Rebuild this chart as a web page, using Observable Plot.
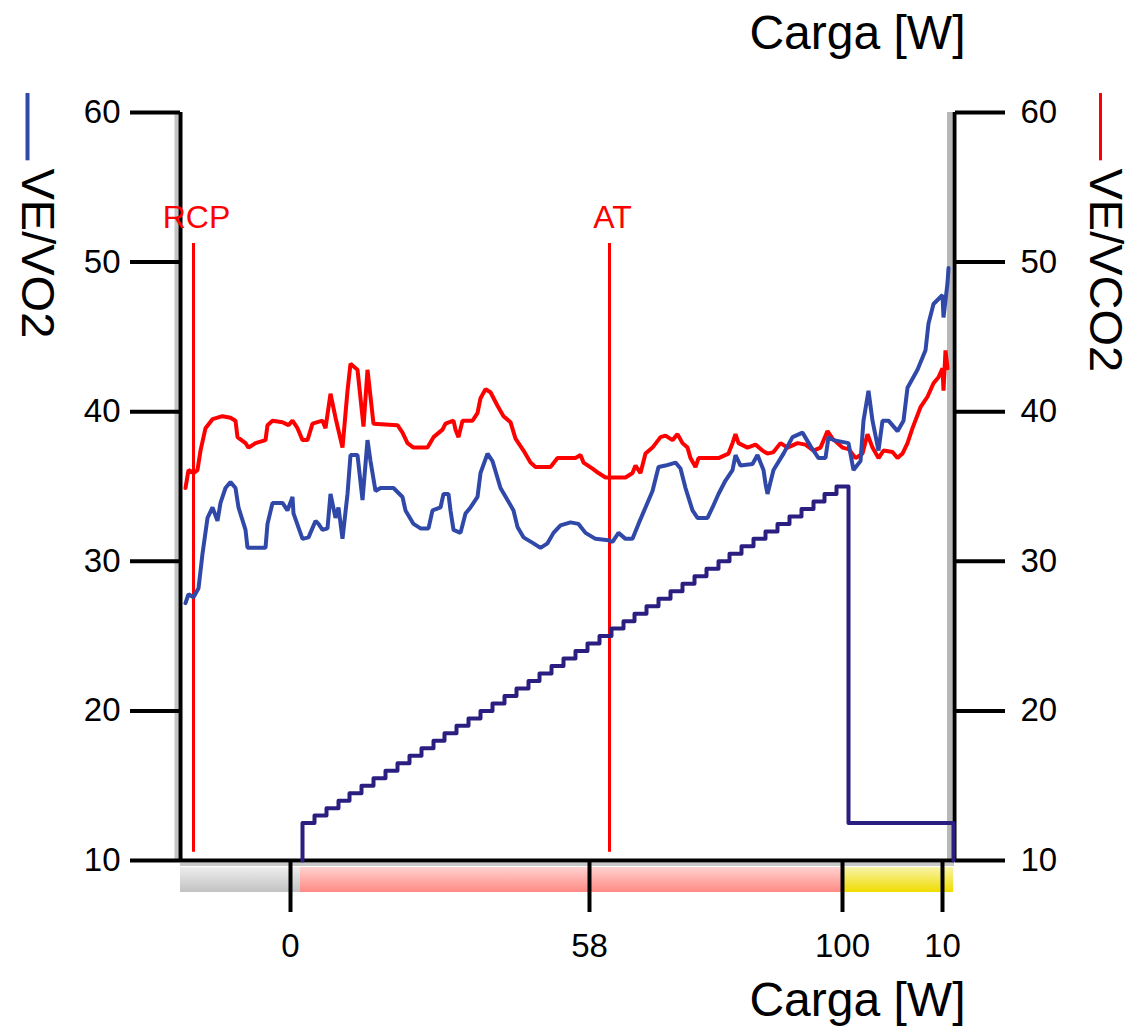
<!DOCTYPE html>
<html>
<head>
<meta charset="utf-8">
<script src="https://cdn.jsdelivr.net/npm/d3@7"></script>
<script src="https://cdn.jsdelivr.net/npm/@observablehq/plot@0.6"></script>
<style>
  html, body { margin: 0; padding: 0; background: white; }
</style>
</head>
<body>
<div id="chart"></div>
<script>
// ---- Data (time in seconds from start of the plotted window) ----
const yTicks = [10, 20, 30, 40, 50, 60];
const xTickPos = [110, 409, 662, 762];
const xTickLabels = ["0", "58", "100", "10"];

// VE/VO2 (blue)
const vo2T = [5,8,13,18,22,27,32,37,40,45,50,55,58,65,67,85,87,92,102,107,112,113,122,128,135,138,142,147,150,155,158,162,167,170,177,182,187,190,195,200,213,222,225,233,240,248,252,260,263,268,270,273,280,285,290,297,300,307,312,320,327,333,337,343,353,360,367,373,380,390,398,405,415,428,432,438,445,452,458,465,472,478,485,495,500,505,512,517,527,532,538,545,552,555,560,572,577,583,585,587,593,603,612,622,630,638,645,648,653,668,673,680,683,688,692,698,702,708,717,723,727,737,745,748,753,762,763,767,768];
const vo2V = [27.2,27.8,27.6,28.2,30.5,32.9,33.6,32.7,33.9,34.9,35.3,34.9,33.6,32.1,30.9,30.9,32.5,33.9,33.9,33.4,34.3,33.2,31.5,31.6,32.7,32.5,32.1,32.2,34.5,32.9,33.6,31.5,34.5,37.1,37.1,34.1,38.1,36.7,34.7,34.9,34.9,34.3,33.4,32.5,32.2,32.2,33.4,33.6,34.5,34.5,33.4,32.1,31.9,33.2,33.6,34.3,35.9,37.2,36.7,34.9,34.1,33.4,32.3,31.6,31.2,30.9,31.2,31.9,32.4,32.6,32.5,31.9,31.5,31.4,31.3,31.9,31.5,31.5,32.5,33.6,34.7,36.3,36.4,36.6,36.2,34.9,33.4,32.9,32.9,33.6,34.5,35.4,36.1,37.1,36.4,36.5,37.1,36.1,35.2,34.5,36.1,37.2,38.3,38.6,37.7,36.9,36.9,38.3,38.1,37.9,36.1,36.7,39.4,41.4,39.4,37.4,39.4,39.4,38.7,39.4,41.6,42.8,44.1,45.9,47.2,47.8,46.3,48.6,49.6];

// VE/VCO2 (red)
const vco2T = [5,8,13,17,20,25,32,42,50,55,57,65,68,75,85,87,92,102,108,112,117,122,127,132,142,145,150,155,162,167,170,177,183,187,193,217,222,227,233,247,253,262,265,273,275,278,282,292,297,300,305,310,317,323,330,335,343,350,355,370,377,390,395,400,403,412,418,425,445,452,455,460,465,472,480,485,492,497,502,507,510,515,518,538,548,552,555,558,567,575,582,587,593,600,607,617,625,633,640,647,652,662,668,675,682,687,692,698,703,712,717,722,727,732,740,747,753,758,762,763,765,767];
const vco2V = [34.9,36.1,35.9,36.1,37.4,38.9,39.5,39.7,39.6,39.4,38.3,37.9,37.6,37.9,38.1,39.1,39.4,39.3,39.1,39.4,38.9,38.1,38.1,39.2,39.4,38.9,41.2,39.6,37.6,41.4,43.2,42.8,39.0,42.8,39.2,39.1,38.6,37.9,37.6,37.6,38.3,38.8,39.2,39.4,38.8,38.3,39.4,39.4,39.9,40.9,41.5,41.3,40.4,39.7,39.3,38.2,37.4,36.6,36.3,36.3,36.9,36.9,36.9,37.1,36.6,36.2,35.9,35.6,35.6,35.9,36.4,35.9,37.2,37.6,38.3,38.4,38.1,38.5,37.9,37.6,36.9,36.3,36.9,36.9,37.2,37.9,38.5,37.9,37.6,37.8,37.4,37.2,37.3,37.9,37.6,37.9,37.8,37.4,37.6,38.7,38.2,37.6,37.5,36.9,37.2,38.5,37.6,36.9,37.4,37.3,36.9,37.2,37.9,38.9,40.3,41.0,41.9,42.3,42.9,41.4,44.1,42.9];

// Load (W) step protocol
const loadT = [122,122,134,146,158,169,181,193,205,217,229,241,253,264,276,288,300,312,324,336,348,359,371,383,395,407,419,431,443,454,466,478,490,502,514,526,538,549,561,573,585,597,609,621,633,644,656,668,773,773];
const loadW = [0,10,12,14,16,18,20,22,24,26,28,30,32,34,36,38,40,42,44,46,48,50,52,54,56,58,60,62,64,66,68,70,72,74,76,78,80,82,84,86,88,90,92,94,96,98,100,10,10,0];

// Phases
const phaseKeys = ["warm", "ramp", "recov"];
const phaseStart = [0, 120, 663];
const phaseEnd = [120, 663, 773];

// Events
const eventNames = ["RCP", "AT"];
const eventT = [13, 429];

// ---- Build tables ----
const vo2 = vo2T.map((t, i) => ({t, v: vo2V[i]}));
const vco2 = vco2T.map((t, i) => ({t, v: vco2V[i]}));
const load = loadT.map((t, i) => ({t, w: loadW[i]}));
const phases = phaseKeys.map((k, i) => ({key: k, start: phaseStart[i], end: phaseEnd[i]}));
const events = eventNames.map((n, i) => ({name: n, t: eventT[i]}));
const tickLabel = new Map(xTickPos.map((p, i) => [p, xTickLabels[i]]));
const loadToY = w => 10 + w / 4; // load axis 0–200 W on the 10–60 ratio scale

const fontFamily = "'Liberation Sans', Arial, Helvetica, sans-serif";
const blue = "#3049a8", red = "#ff0000", navy = "#2a1f80";

const plot = Plot.plot({
  width: 1132,
  height: 1027,
  marginLeft: 180,
  marginRight: 178,
  marginTop: 112,
  marginBottom: 167,
  x: {domain: [0, 774], axis: null},
  y: {domain: [10, 60], axis: null},
  style: {fontFamily, fontSize: "33px", color: "black", background: "white", overflow: "visible"},
  marks: [
    // phase colour bar under the axis
    ...phases.map(p => Plot.rect([p], {x1: "start", x2: "end", y1: 9.53, y2: 7.86, fill: `url(#grad-${p.key})`})),
    // soft shadows of axis lines
    Plot.ruleX([0], {dx: -4, y1: 10, y2: 60, stroke: "#c4c4c4", strokeWidth: 4}),
    Plot.ruleX([774], {dx: -5, y1: 10, y2: 60, stroke: "#b8b8b8", strokeWidth: 5}),
    Plot.ruleY([10], {x1: 0, x2: 774, dy: 4, stroke: "#c8c8c8", strokeWidth: 3}),
    // axes
    Plot.axisY({anchor: "left", ticks: yTicks, tickSize: 50, tickPadding: 10, strokeWidth: 4, fontSize: 33, label: null}),
    Plot.axisY({anchor: "right", ticks: yTicks, tickSize: 50, tickPadding: 16, strokeWidth: 4, fontSize: 33, label: null}),
    Plot.axisX({anchor: "bottom", ticks: xTickPos, tickFormat: d => tickLabel.get(d), tickSize: 52, tickPadding: 21, strokeWidth: 4, fontSize: 33, label: null}),
    Plot.ruleX([0, 774], {y1: 10, y2: 60, stroke: "black", strokeWidth: 4}),
    Plot.ruleY([10], {x1: 0, x2: 774, stroke: "black", strokeWidth: 4}),
    // events
    Plot.ruleX(events, {x: "t", y1: 10.55, y2: 51.25, stroke: red, strokeWidth: 3}),
    Plot.text(events, {x: "t", y: 52.3, text: "name", fill: red, fontSize: 32, lineAnchor: "bottom", dx: 3}),
    // load step line
    Plot.line(load, {x: "t", y: d => loadToY(d.w), curve: "step-after", stroke: navy, strokeWidth: 4}),
    // ratio series
    Plot.line(vco2, {x: "t", y: "v", stroke: red, strokeWidth: 4, strokeLinejoin: "miter"}),
    Plot.line(vo2, {x: "t", y: "v", stroke: blue, strokeWidth: 4, strokeLinejoin: "miter"}),
    // axis titles & legend swatches
    Plot.ruleX([0], {dx: -153, dy: -19, y1: 55.5, y2: 60, stroke: blue, strokeWidth: 4}),
    Plot.ruleX([774], {dx: 146, dy: -19, y1: 55.5, y2: 60, stroke: red, strokeWidth: 3}),
    Plot.text(["VE/VO2"], {frameAnchor: "top-left", dx: -143, dy: 56, rotate: 90, textAnchor: "start", lineAnchor: "middle", fontSize: 47, fill: "black"}),
    Plot.text(["VE/VCO2"], {frameAnchor: "top-right", dx: 151, dy: 56, rotate: 90, textAnchor: "start", lineAnchor: "middle", fontSize: 47, fill: "black"}),
    Plot.text(["Carga [W]"], {frameAnchor: "top-right", dx: 11, dy: -64, textAnchor: "end", lineAnchor: "bottom", fontSize: 48, fill: "black"}),
    Plot.text(["Carga [W]"], {frameAnchor: "bottom-right", dx: 11, dy: 155, textAnchor: "end", lineAnchor: "bottom", fontSize: 48, fill: "black"})
  ]
});

plot.insertAdjacentHTML("afterbegin", `
<defs>
  <linearGradient id="grad-warm" x1="0" y1="0" x2="0" y2="1">
    <stop offset="0" stop-color="#ededed"/><stop offset="1" stop-color="#c2c2c2"/>
  </linearGradient>
  <linearGradient id="grad-ramp" x1="0" y1="0" x2="0" y2="1">
    <stop offset="0" stop-color="#ffd2d0"/><stop offset="1" stop-color="#ff8a84"/>
  </linearGradient>
  <linearGradient id="grad-recov" x1="0" y1="0" x2="0" y2="1">
    <stop offset="0" stop-color="#f8f4a8"/><stop offset="1" stop-color="#f0dc00"/>
  </linearGradient>
</defs>`);

document.getElementById("chart").appendChild(plot);
</script>
</body>
</html>
